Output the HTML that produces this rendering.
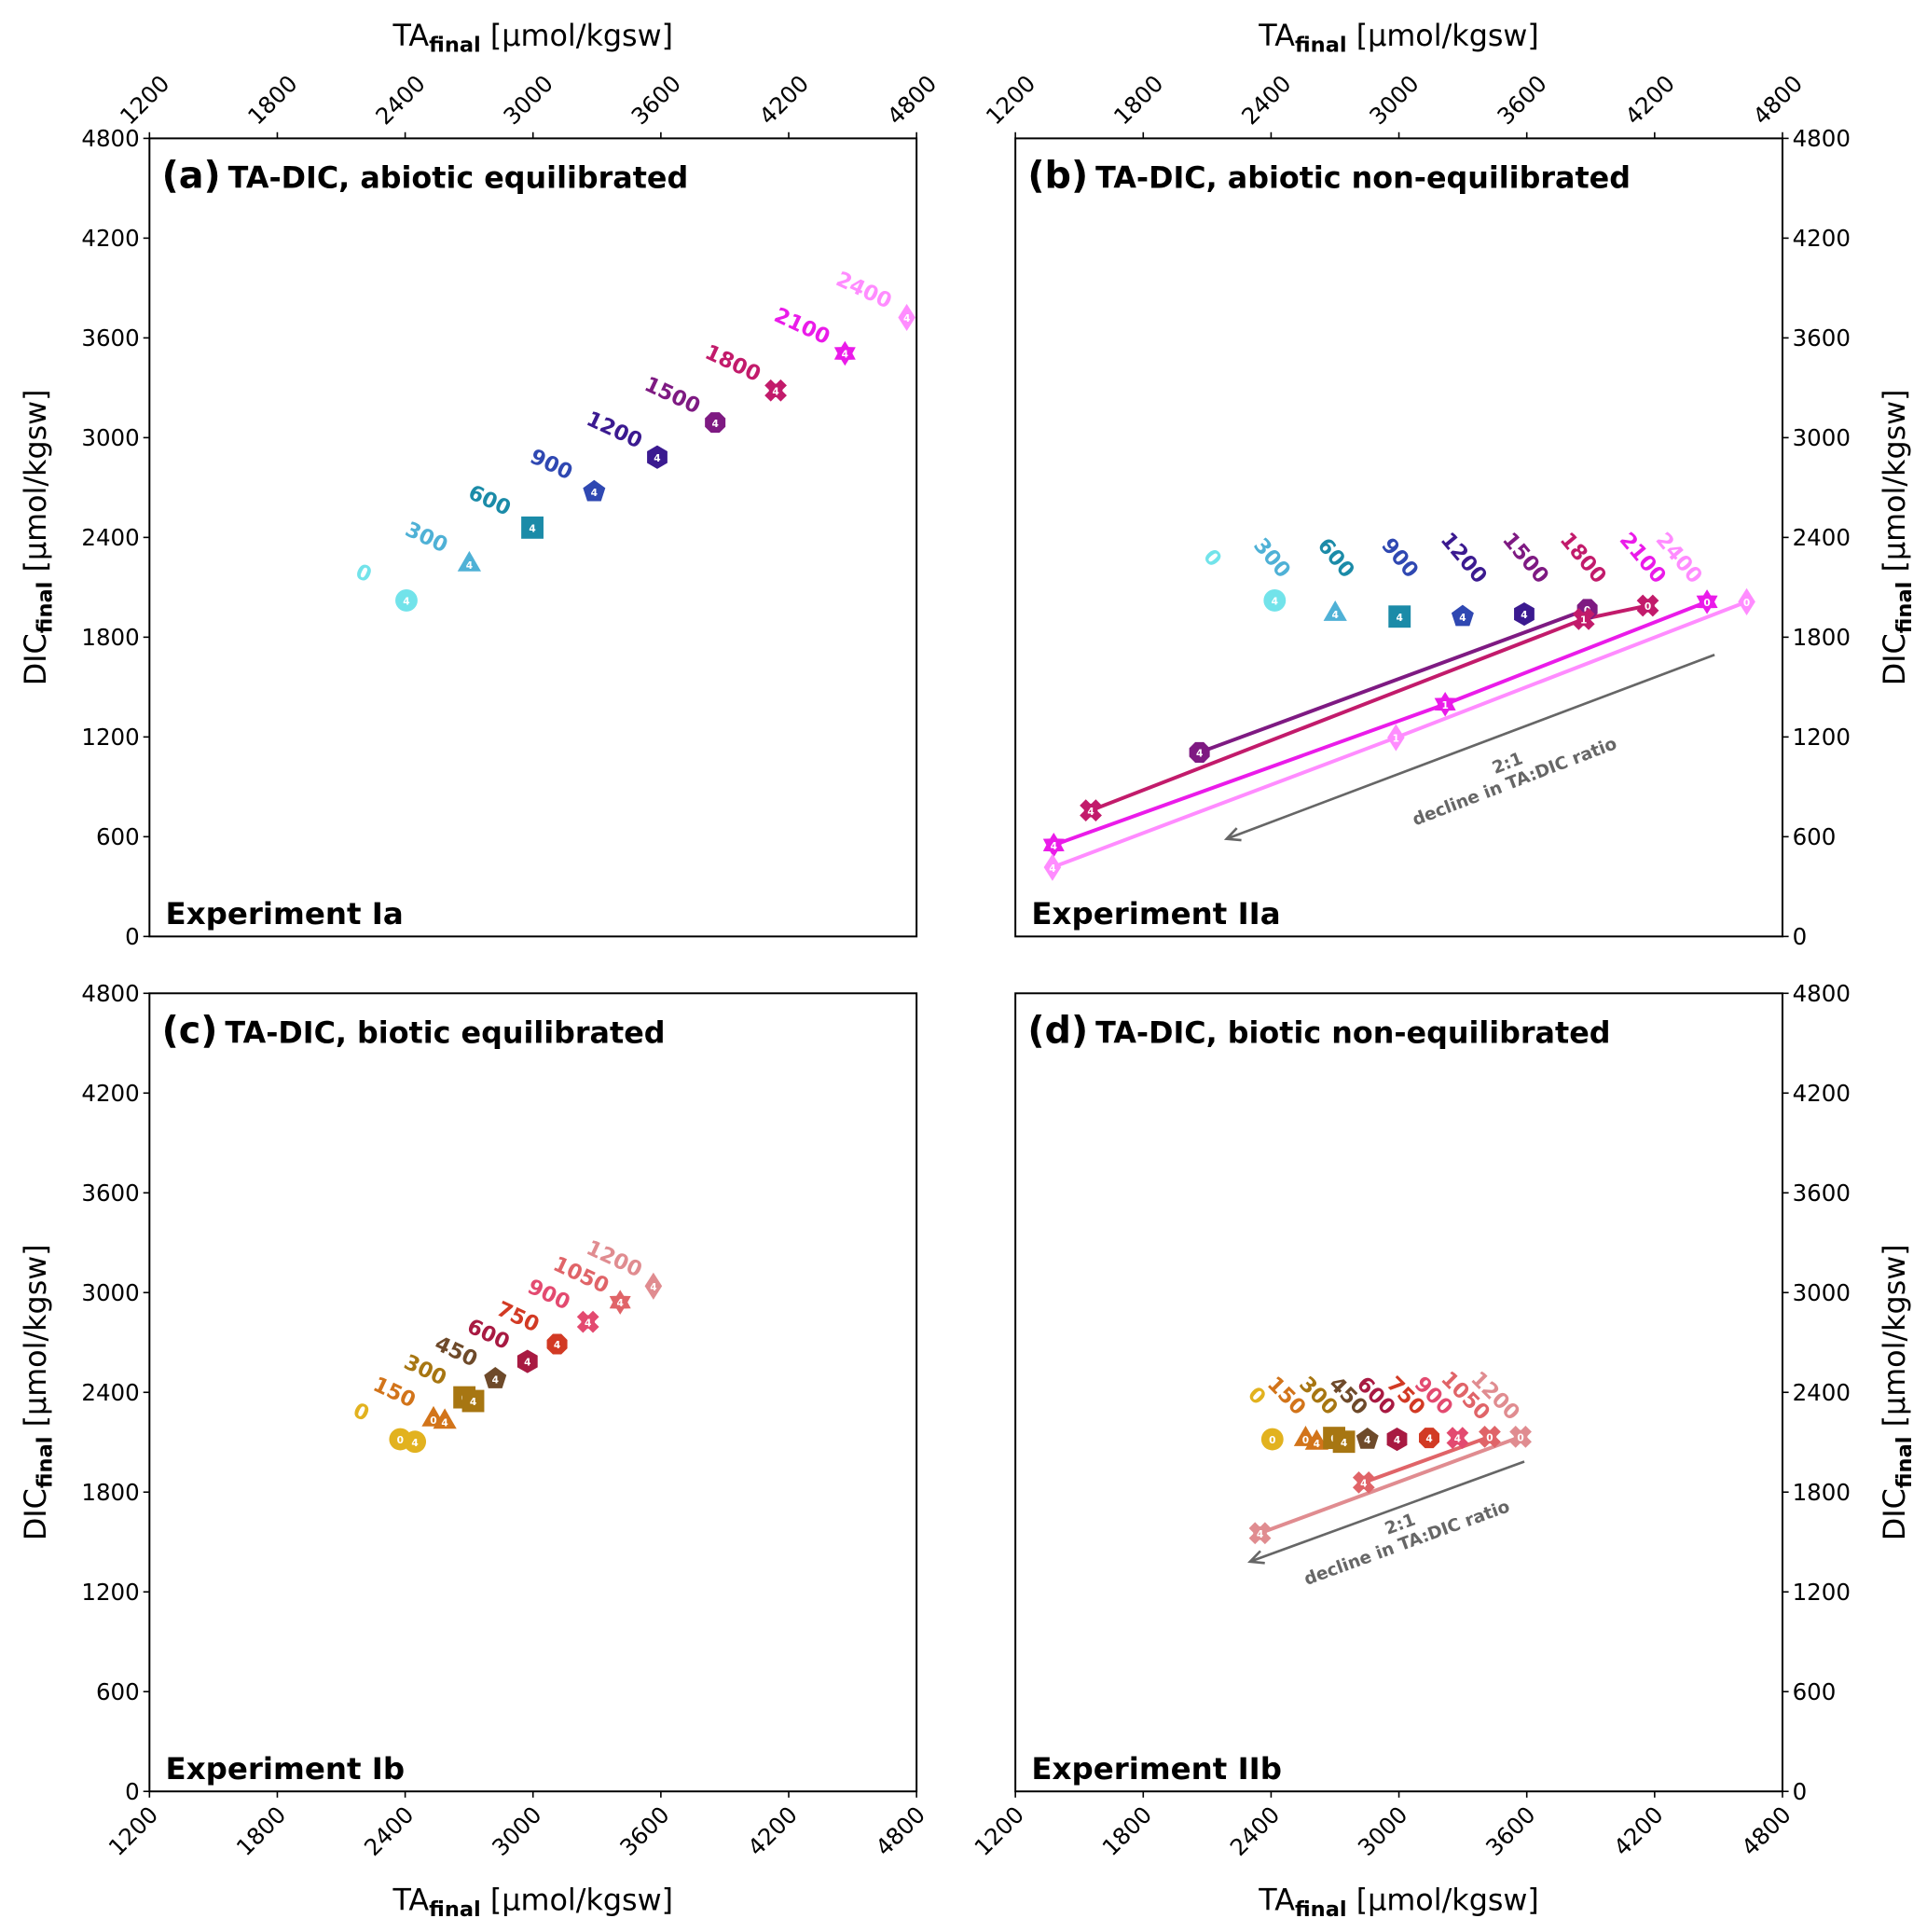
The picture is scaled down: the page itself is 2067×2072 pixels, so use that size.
<!DOCTYPE html>
<html><head><meta charset="utf-8"><style>
html,body{margin:0;padding:0;background:#fff}
svg{display:block}
text{font-family:"DejaVu Sans","Liberation Sans",sans-serif}
</style></head><body>
<svg id="fig" width="2067" height="2072" viewBox="0 0 1560 1563.8" preserveAspectRatio="none" xmlns="http://www.w3.org/2000/svg"></svg>
<script>
// ---- data ----
const xTicks=[1200,1800,2400,3000,3600,4200,4800];
const yTicks=[0,600,1200,1800,2400,3000,3600,4200,4800];
// Panel a (abiotic equilibrated)
const aLabels=["0","300","600","900","1200","1500","1800","2100","2400"];
const aTA=[2406,2701,2997,3287,3583,3855,4139,4464,4754];
const aDIC=[2021,2237,2459,2675,2883,3091,3284,3507,3723];
// Panel b (abiotic non-equilibrated): day0, day1, day4
const bLabels=["0","300","600","900","1200","1500","1800","2100","2400"];
const bTA0=[null,null,null,null,null,3884,4168,4446,4632];
const bDIC0=[null,null,null,null,null,1968,1990,2013,2013];
const bTA1=[null,null,null,null,null,null,3867,3217,2986];
const bDIC1=[null,null,null,null,null,null,1909,1397,1196];
const bTA4=[2417,2701,3003,3299,3588,2064,1554,1380,1374];
const bDIC4=[2021,1939,1924,1924,1939,1107,758,550,416];
// Panel c (biotic equilibrated)
const cLabels=["0","150","300","450","600","750","900","1050","1200"];
const cTA0=[2377,2533,2678,null,null,null,null,null,null];
const cDIC0=[2118,2236,2370,null,null,null,null,null,null];
const cTA4=[2446,2586,2719,2823,2974,3113,3258,3409,3565];
const cDIC4=[2103,2222,2348,2482,2586,2690,2824,2942,3039];
// Panel d (biotic non-equilibrated)
const dLabels=["0","150","300","450","600","750","900","1050","1200"];
const dTA0=[2406,2562,2696,null,null,null,null,3426,3571];
const dDIC0=[2118,2118,2126,null,null,null,null,2133,2133];
const dTA4=[null,2614,2742,2852,2991,3142,3275,2835,2348];
const dDIC4=[null,2096,2103,2118,2118,2126,2126,1858,1553];

const abColors=["#72e3ea","#4fb1d6","#1b8ba8","#2f48b2","#3b1a90","#7e1a82","#c21b6b","#ea1be9","#ff8cff"];
const cdColors=["#e2b21f","#d2741a","#a77612","#6e4a2a","#a81a42","#d23a24","#e34a70","#e06468","#e08c90"];
const shapes=["circle","triangle","square","pentagon","hexagon","octagon","x","star","diamond"];
const NS="http://www.w3.org/2000/svg";
const svg=document.getElementById('fig');
function el(tag,attrs,parent){const e=document.createElementNS(NS,tag);for(const k in attrs)e.setAttribute(k,attrs[k]);(parent||svg).appendChild(e);return e;}

const panels=[
 {id:"a",x0:121,y0:112,w:621,h:646,yside:"left",xside:"top"},
 {id:"b",x0:822,y0:112,w:621,h:646,yside:"right",xside:"top"},
 {id:"c",x0:121,y0:804,w:621,h:646,yside:"left",xside:"bottom"},
 {id:"d",x0:822,y0:804,w:621,h:646,yside:"right",xside:"bottom"}];
function sx(p,v){return p.x0+(v-1200)/3600*p.w;}
function sy(p,v){return p.y0+p.h-(v)/4800*p.h;}

function poly(n,r,rot){let pts=[];for(let i=0;i<n;i++){const a=rot+i*2*Math.PI/n;pts.push((r*Math.cos(a)).toFixed(2)+","+(r*Math.sin(a)).toFixed(2));}return pts.join(" ");}
function marker(g,shape,x,y,color,day){
  const m=el('g',{transform:`translate(${x},${y})`},g);
  
  
  let r=9;
  if(shape==="circle")el('circle',{cx:0,cy:0,r:r,fill:color},m);
  else if(shape==="triangle")el('polygon',{points:poly(3,r+2,-Math.PI/2),fill:color},m);
  else if(shape==="square")el('rect',{x:-r,y:-r,width:2*r,height:2*r,fill:color},m);
  else if(shape==="pentagon")el('polygon',{points:poly(5,r+0.5,-Math.PI/2),fill:color},m);
  else if(shape==="hexagon")el('polygon',{points:poly(6,r+0.5,-Math.PI/2),fill:color},m);
  else if(shape==="octagon")el('polygon',{points:poly(8,r,Math.PI/8),fill:color},m);
  else if(shape==="x"){el('path',{d:"M-6.5,-6.5L6.5,6.5M6.5,-6.5L-6.5,6.5",stroke:color,'stroke-width':7},m);el('circle',{r:5.5,fill:color},m);}
  else if(shape==="star"){let pts=[];for(let i=0;i<12;i++){const rr=i%2?6:10;const a=-Math.PI/2+i*Math.PI/6;pts.push((rr*Math.cos(a)).toFixed(2)+","+(rr*Math.sin(a)).toFixed(2));}el('polygon',{points:pts.join(" "),fill:color},m);}
  else if(shape==="diamond")el('polygon',{points:"0,-11 7,0 0,11 -7,0",fill:color},m);
  const t=el('text',{x:0,y:3.5,'font-size':8,'font-weight':'bold',fill:'#fff','text-anchor':'middle'},m);
  t.textContent=day;
}

panels.forEach(p=>{
  const g=el('g',{});
  
  
  yTicks.forEach(v=>{
    const y=sy(p,v);
    const xx=p.yside==="left"?p.x0:p.x0+p.w;
    const d=p.yside==="left"?-5:5;
    el('line',{x1:xx,y1:y,x2:xx+d,y2:y,stroke:'#000','stroke-width':1.2},g);
    const t=el('text',{x:xx+(p.yside==="left"?-8:8),y:y+6.5,'font-size':18.5,'text-anchor':p.yside==="left"?'end':'start'},g);
    
    
    t.textContent=v;
  });
  xTicks.forEach(v=>{
    const x=sx(p,v);
    const yy=p.xside==="top"?p.y0:p.y0+p.h;
    const d=p.xside==="top"?-5:5;
    el('line',{x1:x,y1:yy,x2:x,y2:yy+d,stroke:'#000','stroke-width':1.2},g);
    let t;
    if(p.xside==="top"){const tx=x-16,ty=yy-10;
      t=el('text',{x:tx,y:ty,'font-size':18.5,'text-anchor':'start',transform:`rotate(-45 ${tx} ${ty})`},g);}
    else{const tx=x+8,ty=yy+20;
      t=el('text',{x:tx,y:ty,'font-size':18.5,'text-anchor':'end',transform:`rotate(-45 ${tx} ${ty})`},g);}
    
    
    t.textContent=v;
  });
  el('rect',{x:p.x0,y:p.y0,width:p.w,height:p.h,fill:'none',stroke:'#000','stroke-width':1.5},g);
  const yx=p.yside==="left"?37:1542, ycy=p.y0+p.h/2;
  const yt=el('text',{x:yx,y:ycy,'font-size':24,'text-anchor':'middle',transform:`rotate(-90 ${yx} ${ycy})`},g);
  
  
  yt.innerHTML='DIC<tspan font-size="17" font-weight="bold" dy="5">final</tspan><tspan dy="-5"> [µmol/kgsw]</tspan>';
  const xty=p.xside==="top"?37:1546;
  const xt=el('text',{x:p.x0+p.w/2,y:xty,'font-size':24,'text-anchor':'middle'},g);
  
  
  xt.innerHTML='TA<tspan font-size="17" font-weight="bold" dy="5">final</tspan><tspan dy="-5"> [µmol/kgsw]</tspan>';
});

const titles={a:["(a)","TA-DIC, abiotic equilibrated","Experiment Ia"],b:["(b)","TA-DIC, abiotic non-equilibrated","Experiment IIa"],c:["(c)","TA-DIC, biotic equilibrated","Experiment Ib"],d:["(d)","TA-DIC, biotic non-equilibrated","Experiment IIb"]};
panels.forEach(p=>{
  const tt=titles[p.id];
  const t=el('text',{x:p.x0+10,y:p.y0+40,'font-size':30,'font-weight':'bold'});
  
  
  t.innerHTML=tt[0]+'<tspan font-size="24" dx="6">'+tt[1]+'</tspan>';
  const e=el('text',{x:p.x0+13,y:p.y0+p.h-10,'font-size':24.5,'font-weight':'bold'});
  
  
  e.textContent=tt[2];
});

function label(p,txt,x,y,color,rot){
  const t=el('text',{x:x,y:y,'font-size':17,'font-weight':'bold',fill:color,'text-anchor':'middle',transform:`rotate(${rot} ${x} ${y})`});
  
  
  t.textContent=txt;
}
function drawLine(p,xs,ys,color){
  const pts=[];xs.forEach((v,i)=>{if(v!=null)pts.push(sx(p,v)+","+sy(p,ys[i]));});
  if(pts.length<2)return;
  const l=el('polyline',{points:pts.join(" "),fill:'none',stroke:color,'stroke-width':3});
  
  
}
function arrow(p,x1,y1,x2,y2,tx,ty,rot){
  const g=el('g',{});
  
  
  el('line',{x1:x1,y1:y1,x2:x2,y2:y2,stroke:'#666','stroke-width':2},g);
  const a=Math.atan2(y2-y1,x2-x1);
  const h=(ang)=>[x2-12*Math.cos(a+ang),y2-12*Math.sin(a+ang)];
  const p1=h(0.45),p2=h(-0.45);
  el('polyline',{points:`${p1} ${x2},${y2} ${p2}`,fill:'none',stroke:'#666','stroke-width':2},g);
  const t=el('text',{x:tx,y:ty,'font-size':14,'font-weight':'bold',fill:'#666','text-anchor':'middle',transform:`rotate(${rot} ${tx} ${ty})`},g);
  t.innerHTML=`<tspan x="${tx}">2:1</tspan><tspan x="${tx}" dy="16">decline in TA:DIC ratio</tspan>`;
}

// Panel a
const pa=panels[0];
aTA.forEach((v,i)=>{
  const x=sx(pa,v),y=sy(pa,aDIC[i]);
  marker(svg,shapes[i],x,y,abColors[i],"4");
  label(pa,aLabels[i],x-37,y-17,abColors[i],25);
});
// Panel b
const pb=panels[1];
bTA4.forEach((v,i)=>{
  drawLine(pb,[bTA0[i],bTA1[i],v],[bDIC0[i],bDIC1[i],bDIC4[i]],abColors[i]);
});
arrow(pb,1388,530,993,679,1222,622,-21);
bTA4.forEach((v,i)=>{
  if(bTA0[i]!=null)marker(svg,shapes[i],sx(pb,bTA0[i]),sy(pb,bDIC0[i]),abColors[i],"0");
  if(bTA1[i]!=null)marker(svg,shapes[i],sx(pb,bTA1[i]),sy(pb,bDIC1[i]),abColors[i],"1");
  marker(svg,shapes[i],sx(pb,v),sy(pb,bDIC4[i]),abColors[i],"4");
});
const bLabelTA=[2100,2380,2680,2980,3280,3570,3840,4120,4290];
bLabels.forEach((t,i)=>{label(pb,t,sx(pb,bLabelTA[i]),sy(pb,2250),abColors[i],50);});
// Panel c
const pc=panels[2];
cTA4.forEach((v,i)=>{
  if(cTA0[i]!=null)marker(svg,shapes[i],sx(pc,cTA0[i]),sy(pc,cDIC0[i]),cdColors[i],"0");
  const x=sx(pc,v),y=sy(pc,cDIC4[i]);
  marker(svg,shapes[i],x,y,cdColors[i],"4");
  const bx=cTA0[i]!=null?sx(pc,cTA0[i]):x, by=cTA0[i]!=null?sy(pc,cDIC0[i]):y;
  label(pc,cLabels[i],bx-34,by-17,cdColors[i],25);
});
// Panel d
const pd=panels[3];
dTA0.forEach((v,i)=>{drawLine(pd,[v,dTA4[i]],[dDIC0[i],dDIC4[i]],cdColors[i]);});
arrow(pd,1234,1183,1012,1264,1135,1238,-20);
dTA0.forEach((v,i)=>{
  const sh=(i>=7)?"x":shapes[i];
  if(v!=null)marker(svg,sh,sx(pd,v),sy(pd,dDIC0[i]),cdColors[i],"0");
  if(dTA4[i]!=null)marker(svg,sh,sx(pd,dTA4[i]),sy(pd,dDIC4[i]),cdColors[i],"4");
});
const dLabelTA=[2310,2450,2600,2740,2870,3010,3140,3290,3430];
dLabels.forEach((t,i)=>{label(pd,t,sx(pd,dLabelTA[i]),sy(pd,2350),cdColors[i],45);});
</script>
</body></html>
